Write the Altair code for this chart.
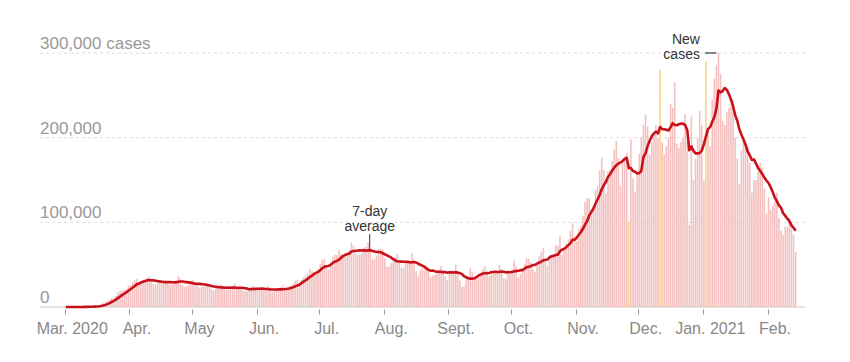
import json
import altair as alt
import pandas as pd

# ---- daily new cases (thousands) ----
mar_2020 = [0.01, 0.02, 0.03, 0.03, 0.06, 0.07, 0.11,
            0.12, 0.17, 0.25, 0.4, 0.45, 0.55, 0.7,
            0.8, 1.2, 1.7, 2.8, 4.5, 5.9, 7.0,
            9.0, 10.5, 11.0, 13.0, 17.0, 18.5, 19.5,
            20.0, 21.5, 24.5]
apr_2020 = [26.0, 29.0, 32.0, 33.5,
            27.5, 29.5, 31.0, 32.0, 34.5, 35.0, 31.5,
            27.0, 26.5, 27.5, 30.0, 31.5, 32.5, 30.5,
            27.0, 26.5, 27.0, 29.0, 31.5, 36.5, 33.5,
            26.5, 23.5, 25.0, 27.0, 29.5]
may_2020 = [32.0, 29.0,
            25.5, 23.0, 23.5, 25.0, 28.0, 27.5, 25.5,
            20.5, 19.5, 22.0, 21.5, 27.0, 25.5, 24.0,
            19.5, 21.0, 20.5, 22.5, 28.0, 23.5, 23.5,
            20.0, 19.0, 18.5, 19.5, 22.5, 24.5, 25.0,
            21.0]
jun_2020 = [18.5, 20.0, 20.5, 21.5, 22.5, 24.5,
            18.5, 17.5, 19.5, 20.5, 22.5, 23.0, 25.5,
            19.0, 19.0, 23.0, 25.5, 27.5, 31.0, 32.0,
            26.5, 31.5, 35.5, 37.0, 39.5, 45.0, 42.5,
            41.5, 40.5, 44.5]
jul_2020 = [50.5, 55.5, 57.0, 47.5,
            44.0, 50.0, 59.5, 61.5, 61.0, 67.5, 63.0,
            58.5, 61.0, 64.5, 67.5, 76.0, 72.5, 64.5,
            61.5, 61.5, 64.0, 70.0, 71.0, 76.0, 66.0,
            56.0, 56.5, 60.5, 68.5, 69.0, 68.0]
aug_2020 = [57.5,
            47.5, 47.5, 52.0, 53.5, 58.5, 62.5, 54.5,
            46.5, 46.5, 51.0, 54.5, 53.5, 64.0, 56.0,
            42.5, 36.0, 43.0, 46.5, 44.0, 49.0, 46.0,
            35.5, 37.0, 38.0, 42.0, 44.0, 48.0, 43.5,
            36.0, 32.0]
sep_2020 = [41.5, 41.0, 43.0, 50.0, 41.0,
            31.5, 23.5, 24.0, 32.5, 35.5, 46.5, 41.5,
            34.0, 33.0, 38.5, 39.0, 44.5, 48.0, 42.5,
            36.0, 38.0, 42.0, 39.5, 43.0, 49.5, 45.0,
            34.0, 33.5, 43.0, 39.5]
oct_2020 = [44.5, 55.0, 48.0,
            35.0, 39.5, 43.5, 51.0, 57.5, 57.5, 53.0,
            45.0, 41.5, 53.0, 59.5, 65.0, 70.0, 56.0,
            48.5, 59.0, 61.5, 62.5, 73.5, 72.0, 83.5,
            61.5, 67.0, 74.5, 80.0, 90.0, 99.0, 83.5]
nov_2020 = [78.0, 92.0, 96.0, 108.0, 124.0, 129.0, 128.0,
            108.0, 119.0, 138.0, 143.0, 161.0, 176.0, 162.0,
            134.0, 160.0, 162.0, 172.0, 186.0, 196.0, 176.0,
            143.0, 172.0, 178.0, 182.0, 100.0, 198.0, 152.0,
            136.0, 158.0]
dec_2020 = [181.0, 200.0, 215.0, 227.0, 213.0,
            180.0, 195.0, 205.0, 215.0, 200.0, 280.0, 195.0,
            180.0, 190.0, 200.0, 240.0, 235.0, 265.0, 193.0,
            188.0, 195.0, 200.0, 228.0, 195.0, 97.0, 225.0,
            150.0, 175.0, 200.0, 232.0, 215.0]
jan_2021 = [150.0, 290.0,
            210.0, 190.0, 245.0, 270.0, 285.0, 300.0, 275.0,
            220.0, 215.0, 230.0, 235.0, 240.0, 245.0, 200.0,
            175.0, 145.0, 185.0, 195.0, 195.0, 190.0, 170.0,
            135.0, 150.0, 150.0, 160.0, 170.0, 165.0, 140.0,
            110.0]
feb_2021 = [130.0, 115.0, 120.0, 125.0, 135.0, 105.0,
            90.0, 85.0, 95.0, 95.0, 105.0, 100.0, 85.0,
            65.0]

# days with reporting anomalies (drawn in yellow)
flagged_dates = ["2020-09-22", "2020-11-26", "2020-12-11", "2021-01-02"]

y_ticks = [0, 100000, 200000, 300000]
y_labels = ["0", "100,000", "200,000", "300,000 cases"]

x_tick_dates = ["2020-03-01", "2020-04-01", "2020-05-01", "2020-06-01",
                "2020-07-01", "2020-08-01", "2020-09-01", "2020-10-01",
                "2020-11-01", "2020-12-01", "2021-01-01", "2021-02-01"]
x_tick_labels = ["Mar. 2020", "Apr.", "May", "Jun.", "Jul.", "Aug.",
                 "Sept.", "Oct.", "Nov.", "Dec.", "Jan. 2021", "Feb."]

# ---- build table ----
daily_thousands = (mar_2020 + apr_2020 + may_2020 + jun_2020 + jul_2020 +
                   aug_2020 + sep_2020 + oct_2020 + nov_2020 + dec_2020 +
                   jan_2021 + feb_2021)
dates = pd.date_range("2020-03-01", periods=len(daily_thousands), freq="D")
df = pd.DataFrame({
    "date": [d.strftime("%Y-%m-%dT12:00:00Z") for d in dates],
    "cases": [round(v * 1000) for v in daily_thousands],
    "flag": [d.strftime("%Y-%m-%d") in flagged_dates for d in dates],
})
ydf = pd.DataFrame({"v": y_ticks, "label": y_labels})

PINK = "#f4c0c0"
YELLOW = "#f7d48c"
RED = "#c8111a"
FONT = "Liberation Sans"


def utc_dt(s, hours=0):
    t = pd.Timestamp(s)
    return alt.DateTime(year=t.year, month=t.month, date=t.day, hours=hours, utc=True)


xscale = alt.Scale(type="utc", nice=False,
                   domain=[utc_dt("2020-02-20", 13), utc_dt("2021-02-16", 14)])
yscale = alt.Scale(domain=[0, 300000], nice=False)

label_expr = (json.dumps(x_tick_labels) +
              "[(utcyear(datum.value)-2020)*12+utcmonth(datum.value)-2]")
xaxis = alt.Axis(values=[utc_dt(s) for s in x_tick_dates], labelExpr=label_expr,
                 title=None, grid=False, domain=False, ticks=True, tickSize=5,
                 tickColor="#999", tickWidth=1, offset=2, labelFontSize=16,
                 labelFont=FONT, labelColor="#888", labelPadding=6, labelOffset=7,
                 labelFlush=False, labelOverlap=False, labelBound=False)

X = alt.X("date:T", scale=xscale, axis=xaxis)

grid = alt.Chart(ydf).transform_filter("datum.v > 0").mark_rule(
    color="#dcdcdc", strokeDash=[3, 3], strokeWidth=1
).encode(y=alt.Y("v:Q", scale=yscale, axis=None))

zero = alt.Chart(ydf).transform_filter("datum.v == 0").mark_rule(
    color="#cccccc", strokeWidth=1
).encode(y=alt.Y("v:Q", scale=yscale, axis=None))

bars = alt.Chart(df).mark_bar(width=1.6).encode(
    x=X,
    y=alt.Y("cases:Q", scale=yscale, axis=None),
    color=alt.condition("datum.flag", alt.value(YELLOW), alt.value(PINK)),
)

line = alt.Chart(df).transform_window(
    avg="mean(cases)", frame=[-6, 0], sort=[alt.SortField("date")]
).mark_line(color=RED, strokeWidth=2.6, strokeJoin="round").encode(
    x=X, y=alt.Y("avg:Q", scale=yscale, axis=None)
)

ylab = alt.Chart(ydf).mark_text(
    align="left", baseline="alphabetic", dy=-4, fontSize=17, font=FONT, color="#999"
).encode(x=alt.value(0), y=alt.Y("v:Q", scale=yscale, axis=None), text="label:N")

# ---- annotations ----
ann7_rule = pd.DataFrame({"date": ["2020-07-25T06:00:00Z"], "y1": [68000], "y2": [86000]})
ann7_text = pd.DataFrame({"date": ["2020-07-25T06:00:00Z"] * 2,
                          "y": [112000, 94500], "t": ["7-day", "average"]})
annN_rule = pd.DataFrame({"date": ["2021-01-02T00:00:00Z"],
                          "date2": ["2021-01-07T12:00:00Z"], "y": [300000]})
annN_text = pd.DataFrame({"date": ["2021-01-02T00:00:00Z"] * 2,
                          "y": [315000, 297500], "t": ["New", "cases"]})

r7 = alt.Chart(ann7_rule).mark_rule(color="#333", strokeWidth=1).encode(
    x=X, y=alt.Y("y1:Q", scale=yscale, axis=None), y2="y2:Q")
t7 = alt.Chart(ann7_text).mark_text(
    align="center", baseline="middle", fontSize=14, font=FONT, color="#333"
).encode(x=X, y=alt.Y("y:Q", scale=yscale, axis=None), text="t:N")
rN = alt.Chart(annN_rule).mark_rule(color="#333", strokeWidth=1.2).encode(
    x=X, x2="date2:T", y=alt.Y("y:Q", scale=yscale, axis=None))
tN = alt.Chart(annN_text).mark_text(
    align="right", baseline="middle", dx=-5, fontSize=14, font=FONT, color="#333"
).encode(x=X, y=alt.Y("y:Q", scale=yscale, axis=None), text="t:N")

chart = alt.layer(grid, zero, bars, line, ylab, r7, t7, rN, tN).properties(
    width=765, height=254,
    autosize=alt.AutoSizeParams(type="none"),
    padding={"left": 32, "top": 45, "right": 37, "bottom": 47},
    background="white",
).configure_view(stroke=None)

chart.save("out.html", embed_options={"renderer": "svg", "actions": False})
